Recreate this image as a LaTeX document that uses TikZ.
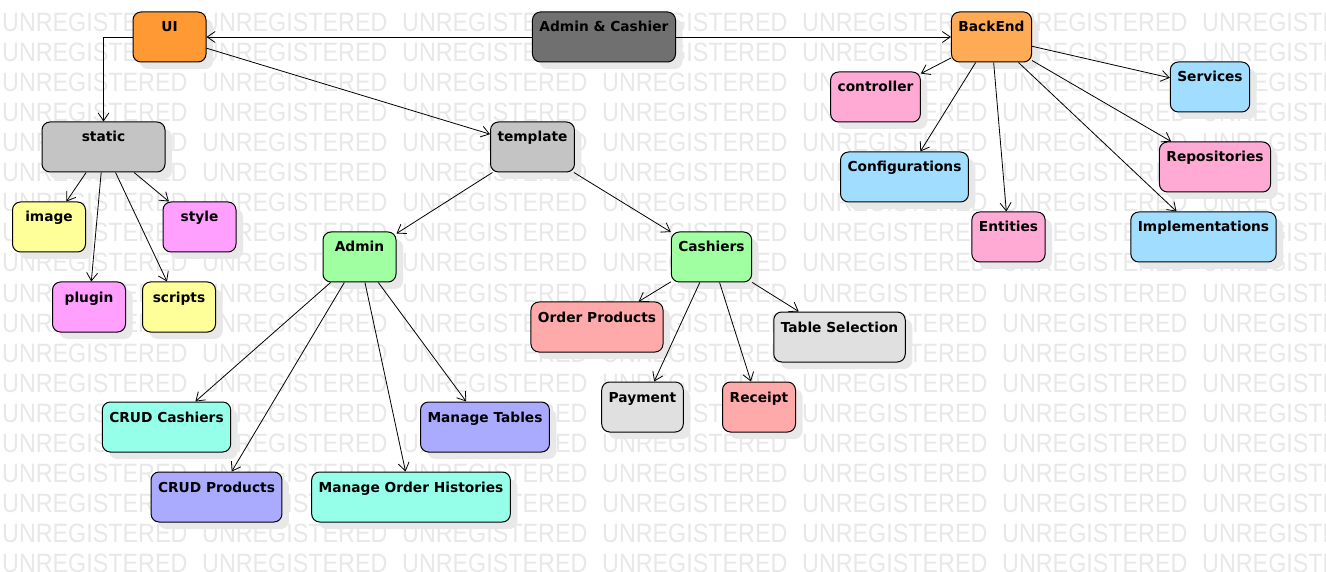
\documentclass[tikz,border=0pt]{standalone}
\usepackage{fontspec}
\newfontfamily\boxfont{DejaVu Sans}
\newfontfamily\wmfont{Liberation Sans}
\usetikzlibrary{arrows.meta,shadows}
\definecolor{uiorange}{RGB}{255,153,51}
\definecolor{beorange}{RGB}{255,170,85}
\definecolor{rootgray}{RGB}{112,112,112}
\definecolor{dirgray}{RGB}{196,196,196}
\definecolor{fileyellow}{RGB}{255,255,153}
\definecolor{filemagenta}{RGB}{255,160,255}
\definecolor{rolegreen}{RGB}{160,255,160}
\definecolor{pagesalmon}{RGB}{255,170,170}
\definecolor{pagegray}{RGB}{224,224,224}
\definecolor{pageaqua}{RGB}{150,255,234}
\definecolor{pageblue}{RGB}{170,170,255}
\definecolor{layerpink}{RGB}{255,170,212}
\definecolor{layersky}{RGB}{160,221,255}
\begin{document}
\begin{tikzpicture}[x=1pt,y=-1pt,
	box/.style={draw=black, line width=1pt, rounded corners=8pt, minimum height=50pt, minimum width=73pt,
		inner xsep=7pt, inner ysep=9pt, text height=11pt, text depth=21pt,
		font=\boxfont\bfseries\fontsize{13.75}{16}\selectfont,
		drop shadow={shadow xshift=7pt, shadow yshift=-7pt, fill=black!9, opacity=1}},
	edge/.style={draw, line width=0.8pt, -{Straight Barb[length=8pt,width=11pt]}},
	wmtext/.style={text=black!9, font=\wmfont\fontsize{26.5}{26.5}\selectfont, xscale=0.88, anchor=base west, inner sep=0pt}]
	\fill[white] (0,0) rectangle (1326,572);
	\useasboundingbox (0,0) rectangle (1326,572);
	\begin{scope}
		\clip (0,0) rectangle (1326,572);
		\foreach \r in {0,...,18}
			\foreach \c in {0,...,6}
				\node[wmtext] (wm\r-\c) at (2+200*\c, 32+30*\r) {UNREGISTERED};
	\end{scope}
	\node[box, fill=uiorange] (ui) at (169.5,37) {UI};
	\node[box, fill=rootgray] (ac) at (604,37) {Admin \& Cashier};
	\node[box, fill=beorange] (backend) at (991.5,37) {BackEnd};
	\node[box, fill=dirgray, minimum width=123pt] (static) at (103.5,147) {static};
	\node[box, fill=dirgray] (template) at (532.5,147) {template};
	\node[box, fill=layerpink] (controller) at (875.5,97) {controller};
	\node[box, fill=layersky] (services) at (1210,87) {Services};
	\node[box, fill=layersky] (config) at (904.5,177) {Configurations};
	\node[box, fill=layerpink] (repos) at (1215,167) {Repositories};
	\node[box, fill=layerpink] (entities) at (1008.5,237) {Entities};
	\node[box, fill=layersky] (impl) at (1203.5,237) {Implementations};
	\node[box, fill=fileyellow] (image) at (49,227) {image};
	\node[box, fill=filemagenta] (style) at (199.5,227) {style};
	\node[box, fill=filemagenta] (plugin) at (89,307) {plugin};
	\node[box, fill=fileyellow] (scripts) at (179,307) {scripts};
	\node[box, fill=rolegreen] (admin) at (359.5,257) {Admin};
	\node[box, fill=rolegreen] (cashiers) at (711.5,257) {Cashiers};
	\node[box, fill=pagesalmon] (orderprod) at (597,327) {Order Products};
	\node[box, fill=pagegray] (tablesel) at (839.5,337) {Table Selection};
	\node[box, fill=pagegray] (payment) at (642.5,407) {Payment};
	\node[box, fill=pagesalmon] (receipt) at (759,407) {Receipt};
	\node[box, fill=pageaqua] (crudcash) at (166.5,427) {CRUD Cashiers};
	\node[box, fill=pageblue] (mantables) at (485,427) {Manage Tables};
	\node[box, fill=pageblue] (crudprod) at (216.5,497) {CRUD Products};
	\node[box, fill=pageaqua] (manhist) at (411,497) {Manage Order Histories};
	\draw[edge] (ac) -- (ui);
	\draw[edge] (ac) -- (backend);
	\draw[edge] (ui.west) -| (static.north);
	\draw[edge] (ui) -- (template);
	\foreach \t in {image,style,plugin,scripts}
		\draw[edge] (static) -- (\t);
	\foreach \t in {controller,services,config,repos,entities,impl}
		\draw[edge] (backend) -- (\t);
	\draw[edge] (template) -- (admin);
	\draw[edge] (template) -- (cashiers);
	\foreach \t in {crudcash,crudprod,manhist,mantables}
		\draw[edge] (admin) -- (\t);
	\foreach \t in {orderprod,payment,receipt,tablesel}
		\draw[edge] (cashiers) -- (\t);
\end{tikzpicture}
\end{document}
